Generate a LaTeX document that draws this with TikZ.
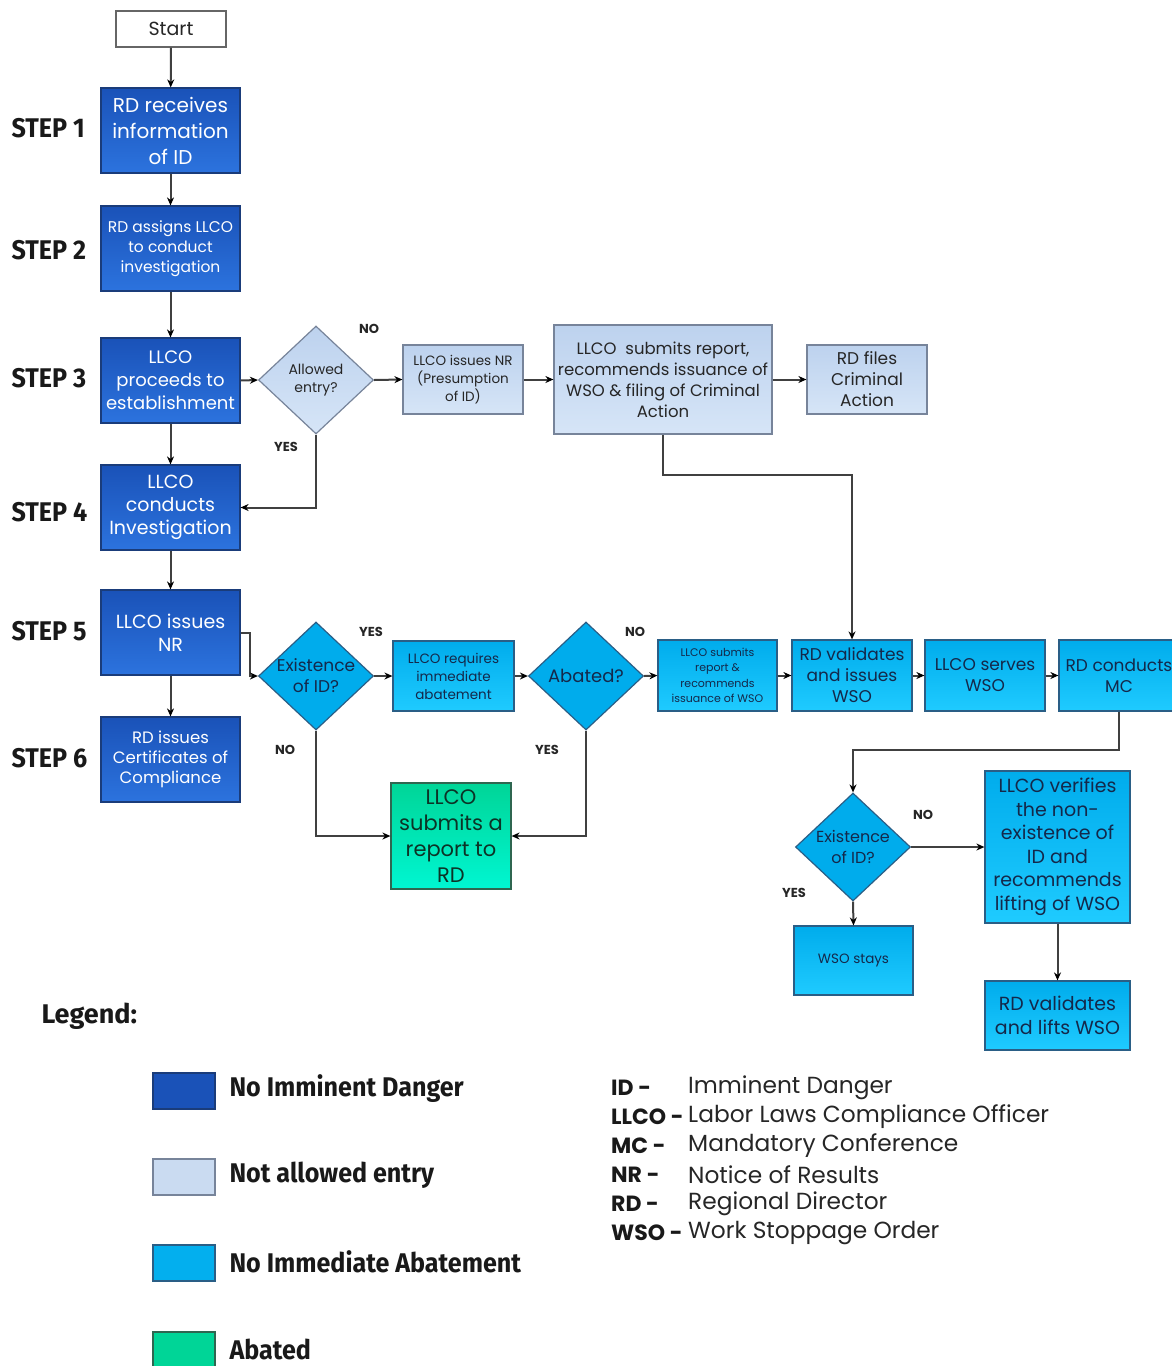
\documentclass[tikz,border=0pt]{standalone}
\usepackage{fontspec}
\setmainfont{Poppins}
\newfontfamily\condfont{Fira Sans}[FakeStretch=0.93]
\newfontfamily\legfont{Fira Sans}
\usetikzlibrary{shapes.geometric,arrows.meta}
\definecolor{dkA}{HTML}{1A52B8}
\definecolor{dkB}{HTML}{2C73DE}
\definecolor{dkE}{HTML}{1A3C7A}
\definecolor{ltA}{HTML}{BDD2EE}
\definecolor{ltB}{HTML}{D6E5F7}
\definecolor{ltE}{HTML}{77849A}
\definecolor{cyA}{HTML}{00ACEC}
\definecolor{cyB}{HTML}{1FCBFF}
\definecolor{cyE}{HTML}{2A5E86}
\definecolor{cyT}{HTML}{14284A}
\definecolor{grA}{HTML}{00D597}
\definecolor{grB}{HTML}{00F6D2}
\definecolor{grE}{HTML}{2F6650}
\definecolor{grT}{HTML}{0C3326}
\definecolor{lnC}{HTML}{404040}
\newcommand\fsz[2]{\fontsize{#1}{#2}\selectfont}
\tikzset{
  base/.style={draw, line width=1.2pt, align=center, inner sep=1pt},
  dk/.style={base, top color=dkA, bottom color=dkB, draw=dkE, text=white},
  lt/.style={base, top color=ltA, bottom color=ltB, draw=ltE, text=black!85},
  cy/.style={base, top color=cyA, bottom color=cyB, draw=cyE, text=cyT},
  gr/.style={base, top color=grA, bottom color=grB, draw=grE, text=grT},
  whitebox/.style={base, fill=white, draw=black!60, text=black!85},
  dia/.style={diamond, line width=1.2pt, inner sep=0pt, minimum width=115pt, minimum height=108pt},
  dialt/.style 2 args={dia, draw=ltE, top color=ltA, bottom color=ltB, label={[text=black!85, align=center, font=#1]center:#2}},
  diacy/.style 2 args={dia, draw=cyE, fill=cyA, label={[text=cyT, align=center, font=#1]center:#2}},
  arr/.style={draw=lnC, line width=2pt, -{Stealth[length=8pt,width=7pt,black]}},
  yn/.style={font=\bfseries\fsz{13}{15}, text=black!85},
  steplbl/.style={anchor=west, font=\condfont\bfseries\fsz{27}{30}, text=black!90},
  swatch/.style={draw, line width=1.6pt, minimum width=62pt, minimum height=36pt, inner sep=0pt},
  leglbl/.style={anchor=west, font=\condfont\bfseries\fsz{27}{30}, text=black!90},
  abbr/.style={anchor=west, font=\bfseries\fsz{22}{26}, text=black!90, inner sep=0pt},
  defn/.style={anchor=west, font=\fsz{23.3}{26}, text=black!85, inner sep=0pt}
}
\begin{document}
\begin{tikzpicture}[x=1pt,y=-1pt]
\useasboundingbox (0,0) rectangle (1172,1366);
\fill[white] (0,0) rectangle (1172,1366);
\clip (0,0) rectangle (1172,1366);

% left column
\node[whitebox, minimum width=110pt, minimum height=36pt, font=\fsz{19}{22}] (start) at (171,29) {Start};
\node[dk, minimum width=139pt, minimum height=85pt, font=\fsz{20}{26}] (s1) at (170.5,130.5) {RD receives\\information\\of ID};
\node[dk, minimum width=139pt, minimum height=85pt, font=\fsz{15.5}{20}] (s2) at (170.5,248.5) {RD assigns LLCO\\to conduct\\investigation};
\node[dk, minimum width=139pt, minimum height=85pt, font=\fsz{18}{23}] (s3) at (170.5,380.5) {LLCO\\proceeds to\\establishment};
\node[dk, minimum width=139pt, minimum height=85pt, font=\fsz{19}{23}] (s4) at (170.5,507.5) {LLCO\\conducts\\Investigation};
\node[dk, minimum width=139pt, minimum height=85pt, font=\fsz{19}{23}] (s5) at (170.5,632.5) {LLCO issues\\NR};
\node[dk, minimum width=139pt, minimum height=85pt, font=\fsz{16.5}{20}] (s6) at (170.5,759.5) {RD issues\\Certificates of\\Compliance};

\node[steplbl] (l1) at (8,128) {STEP 1};
\node[steplbl] (l2) at (8,250) {STEP 2};
\node[steplbl] (l3) at (8,378) {STEP 3};
\node[steplbl] (l4) at (8,512) {STEP 4};
\node[steplbl] (l5) at (8,631) {STEP 5};
\node[steplbl] (l6) at (8,758) {STEP 6};

% row: not allowed entry
\node[dialt={\fsz{14}{18}}{Allowed\\entry?}] (ae) at (316,380) {};
\node[lt, minimum width=120pt, minimum height=69pt, font=\fsz{13.5}{18}] (nr) at (463,379.5) {LLCO issues NR\\(Presumption\\of ID)};
\node[lt, minimum width=218pt, minimum height=109pt, font=\fsz{16.5}{21}] (rep) at (663,379.5) {LLCO\ \ submits report,\\recommends issuance of\\WSO \& filing of Criminal\\Action};
\node[lt, minimum width=120pt, minimum height=69pt, font=\fsz{17}{21}] (crim) at (867,379.5) {RD files\\Criminal\\Action};

\node[yn] (no1) at (369,329) {NO};
\node[yn] (yes1) at (286,447) {YES};

% row: existence of ID
\node[diacy={\fsz{17}{21}}{Existence\\of ID?}] (ex1) at (316,676) {};
\node[cy, minimum width=121pt, minimum height=70pt, font=\fsz{13.5}{18}] (req) at (453.5,676) {LLCO requires\\immediate\\abatement};
\node[diacy={\fsz{18}{21}}{Abated?}] (ab) at (586,676) {};
\node[cy, minimum width=119pt, minimum height=71pt, font=\fsz{11}{15.5}] (sub) at (717.5,675.5) {LLCO submits\\report \&\\recommends\\issuance of WSO};
\node[cy, minimum width=120pt, minimum height=71pt, font=\fsz{17}{21}] (rdv) at (852,675.5) {RD validates\\and issues\\WSO};
\node[cy, minimum width=120pt, minimum height=71pt, font=\fsz{17}{21}] (srv) at (985,675.5) {LLCO serves\\WSO};
\node[cy, minimum width=120pt, minimum height=71pt, font=\fsz{17}{21}] (mc) at (1119,675.5) {RD conducts\\MC};
\node[gr, minimum width=120pt, minimum height=106pt, font=\fsz{21}{26}] (grn) at (451,836) {LLCO\\submits a\\report to\\RD};

\node[yn] (yes2) at (371,632) {YES};
\node[yn] (no2) at (285,750) {NO};
\node[yn] (no3) at (635,632) {NO};
\node[yn] (yes3) at (547,750) {YES};

% lower right
\node[diacy={\fsz{16}{21}}{Existence\\of ID?}] (ex2) at (853,847) {};
\node[cy, minimum width=145pt, minimum height=152pt, font=\fsz{19}{23.5}] (ver) at (1057.5,847) {LLCO verifies\\the non-\\existence of\\ID and\\recommends\\lifting of WSO};
\node[cy, minimum width=119pt, minimum height=69pt, font=\fsz{13.5}{17}] (wso) at (853.5,960.5) {WSO stays};
\node[cy, minimum width=145pt, minimum height=69pt, font=\fsz{19}{24}] (lift) at (1057.5,1015.5) {RD validates\\and lifts WSO};
\node[yn] (no4) at (923,815) {NO};
\node[yn] (yes4) at (794,893) {YES};

% connectors
\draw[arr] (start) -- (s1);
\draw[arr] (s1) -- (s2);
\draw[arr] (s2) -- (s3);
\draw[arr] (s3) -- (s4);
\draw[arr] (s4) -- (s5);
\draw[arr] (s5) -- (s6);
\draw[arr] (s3.east) -- (ae.west);
\draw[arr] (ae.east) -- (nr.west);
\draw[arr] (nr.east) -- (rep.west);
\draw[arr] (rep.east) -- (crim.west);
\draw[arr] (ae.south) |- (s4.east);
\draw[arr] (rep.south) -- ++(0,40) -| (rdv.north);
\draw[arr] (s5.east) -- ++(9,0) |- (ex1.west);
\draw[arr] (ex1.east) -- (req.west);
\draw[arr] (req.east) -- (ab.west);
\draw[arr] (ab.east) -- (sub.west);
\draw[arr] (sub.east) -- (rdv.west);
\draw[arr] (rdv.east) -- (srv.west);
\draw[arr] (srv.east) -- (mc.west);
\draw[arr] (ex1.south) |- (grn.west);
\draw[arr] (ab.south) |- (grn.east);
\draw[arr] (mc.south) -- ++(0,38) -| (ex2.north);
\draw[arr] (ex2.east) -- (ver.west);
\draw[arr] (ex2.south) -- (wso.north);
\draw[arr] (ver.south) -- (lift.north);

% legend
\node[anchor=west, font=\legfont\bfseries\fsz{27}{30}, text=black!90] (leg) at (38,1016) {Legend:};
\node[swatch, draw=dkE, fill=dkA] (sw1) at (184,1091) {};
\node[swatch, draw=ltE, fill=ltA!80!white] (sw2) at (184,1177) {};
\node[swatch, draw=cyE, fill=cyA!90!cyB] (sw3) at (184,1263) {};
\node[swatch, draw=grE, fill=grA] (sw4) at (184,1350) {};
\node[leglbl] (t1) at (226,1089) {No Imminent Danger};
\node[leglbl] (t2) at (226,1175) {Not allowed entry};
\node[leglbl] (t3) at (226,1262) {No Immediate Abatement};
\node[leglbl] (t4) at (226,1349) {Abated};

\node[abbr] (a1) at (611,1088) {ID -};
\node[abbr] (a2) at (611,1117) {LLCO -};
\node[abbr] (a3) at (611,1146) {MC -};
\node[abbr] (a4) at (611,1175) {NR -};
\node[abbr] (a5) at (611,1204) {RD -};
\node[abbr] (a6) at (611,1233) {WSO -};
\node[defn] (d1) at (688,1088) {Imminent Danger};
\node[defn] (d2) at (688,1117) {Labor Laws Compliance Officer};
\node[defn] (d3) at (688,1146) {Mandatory Conference};
\node[defn] (d4) at (688,1175) {Notice of Results};
\node[defn] (d5) at (688,1204) {Regional Director};
\node[defn] (d6) at (688,1233) {Work Stoppage Order};
\end{tikzpicture}
\end{document}
